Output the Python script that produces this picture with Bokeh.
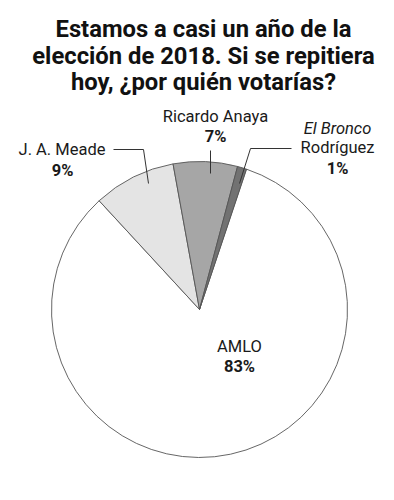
import numpy as np
from bokeh.plotting import figure
from bokeh.models import Range1d, ColumnDataSource
from bokeh.core.properties import value
from bokeh.embed import file_html
from bokeh.resources import INLINE

# ---- data ----
title_lines = ["Estamos a casi un año de la",
               "elección de 2018. Si se repitiera",
               "hoy, ¿por quién votarías?"]
candidates = ["AMLO", "J. A. Meade", "Ricardo Anaya", "El Bronco Rodríguez"]
percent = [83, 9, 7, 1]
colors = ["#ffffff", "#e4e4e4", "#a6a6a6", "#727272"]

# ---- layout (pixels in a 378x484 frame) ----
W, H = 378, 484
CX, CY, R = 191, 183, 148
START = 71.5  # degrees, slices run clockwise from here
FONT = "Roboto"
TXT = "#1a1a1a"
BASE_SHIFT = 0.35  # empirical baseline correction (fraction of font size)

p = figure(width=W, height=H, output_backend="svg", toolbar_location=None,
           x_range=Range1d(-8, W - 8), y_range=Range1d(8, H + 8),
           min_border=0, x_axis_location=None, y_axis_location=None)
p.grid.visible = False
p.outline_line_color = None
p.background_fill_color = "white"
p.border_fill_color = "white"

vals = np.array(percent, dtype=float)
frac = vals / vals.sum()
cum = np.concatenate([[0], np.cumsum(frac)])
starts = np.radians(START - cum[1:] * 360)
ends = np.radians(START - cum[:-1] * 360)
src = ColumnDataSource(dict(start=starts, end=ends, color=colors, name=candidates))
p.wedge(x=CX, y=CY, radius=R, start_angle="start", end_angle="end",
        direction="anticlock", fill_color="color",
        line_color="#555555", line_width=0.9, source=src)

def txt(x, y, t, style="normal", size=16.5, color=TXT):
    p.text(x=[x], y=[y + BASE_SHIFT * size], text=[t], text_font=value(FONT),
           text_font_style=style, text_font_size=f"{size}px", text_color=color,
           text_align="center", text_baseline="alphabetic")

# title
for i, t in enumerate(title_lines):
    txt(195, 455 - i * 26.5, t, "bold", 23.8, "#111111")

# leader lines
leaders = [
    ([105, 135, 140], [343, 343, 309]),   # Meade
    ([202, 202], [342, 319]),             # Anaya
    ([283, 242, 231], [344, 344, 309]),   # Bronco
]
for xs, ys in leaders:
    p.line(xs, ys, line_color="#333333", line_width=1)

pct = [f"{v}%" for v in percent]
# AMLO
txt(231, 140, "AMLO")
txt(231, 120, pct[0], "bold")
# Meade
txt(53.5, 337, "J. A. Meade")
txt(54, 316, pct[1], "bold")
# Anaya
txt(207, 370, "Ricardo Anaya")
txt(207, 350, pct[2], "bold")
# Bronco
txt(329, 358, "El Bronco", "italic")
txt(329, 339, "Rodríguez")
txt(329, 318, pct[3], "bold")

open("out.html", "w").write(file_html(p, INLINE))
